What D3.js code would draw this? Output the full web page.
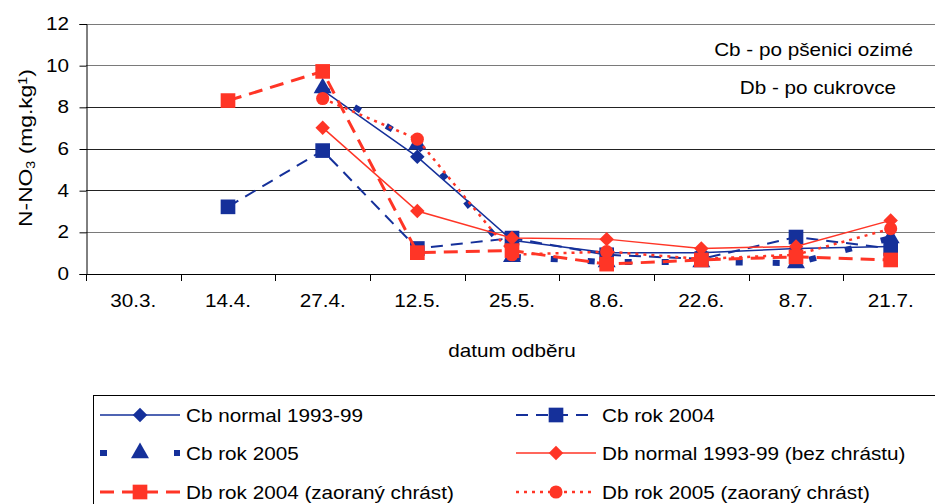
<!DOCTYPE html>
<html>
<head>
<meta charset="utf-8">
<script src="https://cdn.jsdelivr.net/npm/d3@7"></script>
<style>
  body { margin: 0; background: #fff; }
  text { font-family: "Liberation Sans", Arial, sans-serif; fill: #000; }
</style>
</head>
<body>
<svg id="chart"></svg>
<script>
/* data */
var categories = ["30.3.", "14.4.", "27.4.", "12.5.", "25.5.", "8.6.", "22.6.", "8.7.", "21.7."];
var yTicks = [0, 2, 4, 6, 8, 10, 12];

var cbNormal = [null, null, 8.8, 5.6, 1.6, 1.0, 1.0, 1.2, 1.3];
var cb2004   = [null, 3.2, 5.9, 1.2, 1.7, 0.9, 0.7, 1.75, 1.2];
var cb2005   = [null, null, 8.9, 6.2, 0.8, 0.55, 0.55, 0.5, 1.7];
var dbNormal = [null, null, 7.0, 3.0, 1.7, 1.65, 1.2, 1.3, 2.55];
var db2004   = [null, 8.3, 9.7, 1.0, 1.1, 0.45, 0.65, 0.8, 0.65];
var db2005   = [null, null, 8.4, 6.45, 0.9, 1.05, 0.7, 0.9, 2.15];

var seriesNames = ["Cb normal 1993-99", "Cb rok 2004", "Cb rok 2005",
                   "Db normal 1993-99 (bez chrástu)", "Db rok 2004 (zaoraný chrást)", "Db rok 2005 (zaoraný chrást)"];
var notes = ["Cb - po pšenici ozimé", "Db - po cukrovce"];

var BLUE = "#15309a", RED = "#ff3526";

/* styles per series */
var series = [
  { name: seriesNames[0], values: cbNormal, color: BLUE, width: 1.5, dash: null,   symbol: "diamond" },
  { name: seriesNames[1], values: cb2004,   color: BLUE, width: 2,   dash: "12,8", symbol: "square" },
  { name: seriesNames[2], values: cb2005,   color: BLUE, width: 6,   dash: "7,30", symbol: "triangle" },
  { name: seriesNames[3], values: dbNormal, color: RED,  width: 1.5, dash: null,   symbol: "diamond" },
  { name: seriesNames[4], values: db2004,   color: RED,  width: 3,   dash: "14,8", symbol: "square" },
  { name: seriesNames[5], values: db2005,   color: RED,  width: 2.5, dash: "3,5",  symbol: "circle" }
];

var width = 935, height = 504,
    plotLeft = 86, plotRight = 938, plotTop = 23.5, plotBottom = 273.5,
    SX = 1.15,   // text in the picture is stretched horizontally
    FS = 18;

var svg = d3.select("#chart").attr("width", width).attr("height", height);
svg.append("rect").attr("width", width).attr("height", height).attr("fill", "#fff");

var xScale = d3.scaleBand().domain(categories).range([plotLeft, plotRight]);
var yScale = d3.scaleLinear().domain([0, 12]).range([plotBottom, plotTop]);
var cx = function (c) { return xScale(c) + xScale.bandwidth() / 2; };

function label(g, x, y, str, anchor) {
  return g.append("text")
    .attr("transform", "translate(" + x + "," + y + ") scale(" + SX + ",1)")
    .attr("text-anchor", anchor || "start")
    .style("font-size", FS + "px")
    .text(str);
}

function symbolPath(kind) {
  if (kind === "diamond") return d3.symbol(d3.symbolSquare, 105)();
  if (kind === "square") return d3.symbol(d3.symbolSquare, 215)();
  if (kind === "triangle") return d3.symbol(d3.symbolTriangle, 140)();
  return d3.symbol(d3.symbolCircle, 135)();
}
function symbolRotate(kind) { return kind === "diamond" ? " rotate(45)" : ""; }

/* gridlines */
svg.append("g").selectAll("line")
  .data(yTicks.filter(function (d) { return d > 0; }))
  .enter().append("line")
    .attr("x1", plotLeft).attr("x2", width)
    .attr("y1", function (d) { return Math.round(yScale(d)) + 0.5; })
    .attr("y2", function (d) { return Math.round(yScale(d)) + 0.5; })
    .attr("stroke", function (d) { return (d === 12 || d === 10 || d === 2) ? "#7a7a7a" : "#222"; })
    .attr("stroke-width", 1);

/* y-axis */
var yAxisG = svg.append("g").attr("transform", "translate(" + (plotLeft + 0.5) + ",0.5)")
  .call(d3.axisLeft(yScale).tickValues(yTicks).tickSize(7).tickFormat(""));
yAxisG.select(".domain").attr("stroke", "#000");
yTicks.forEach(function (t) { label(svg, 69, yScale(t) + 6.5, String(t), "end"); });

/* x-axis: ticks at category boundaries */
svg.append("line").attr("x1", plotLeft).attr("x2", width)
  .attr("y1", Math.round(plotBottom) + 0.5).attr("y2", Math.round(plotBottom) + 0.5).attr("stroke", "#000");
svg.append("g").selectAll("line")
  .data(categories)
  .enter().append("line")
    .attr("x1", function (d) { return Math.round(xScale(d)) + 0.5; })
    .attr("x2", function (d) { return Math.round(xScale(d)) + 0.5; })
    .attr("y1", Math.round(plotBottom)).attr("y2", Math.round(plotBottom) + 7)
    .attr("stroke", "#000");
categories.forEach(function (c) { label(svg, cx(c), 307, c, "middle"); });

/* axis legends */
label(svg, 512, 357, "datum odběru", "middle");
var yt = svg.append("text")
  .attr("transform", "translate(32,148) rotate(-90) scale(1.2,1)")
  .attr("text-anchor", "middle").style("font-size", "19px");
yt.append("tspan").text("N-NO");
yt.append("tspan").attr("baseline-shift", "-25%").style("font-size", "12px").text("3");
yt.append("tspan").text(" (mg.kg");
yt.append("tspan").attr("baseline-shift", "45%").style("font-size", "12px").text("1");
yt.append("tspan").text(")");

/* notes */
label(svg, 913, 56, notes[0], "end");
label(svg, 896, 94, notes[1], "end");

/* series */
var line = d3.line()
  .defined(function (d) { return d.v !== null; })
  .x(function (d) { return cx(d.c); })
  .y(function (d) { return yScale(d.v); });

var plot = svg.append("g");
series.forEach(function (s) {
  var pts = s.values.map(function (v, i) { return { c: categories[i], v: v }; });
  plot.append("path")
    .datum(pts)
    .attr("d", line)
    .attr("fill", "none")
    .attr("stroke", s.color)
    .attr("stroke-width", s.width)
    .attr("stroke-dasharray", s.dash);
  plot.append("g").selectAll("path")
    .data(pts.filter(function (d) { return d.v !== null; }))
    .enter().append("path")
      .attr("d", symbolPath(s.symbol))
      .attr("transform", function (d) {
        return "translate(" + cx(d.c) + "," + yScale(d.v) + ")" + symbolRotate(s.symbol);
      })
      .attr("fill", s.color);
});

/* legend */
var lg = svg.append("g");
lg.append("rect").attr("x", 93.5).attr("y", 395.5).attr("width", 900).attr("height", 200)
  .attr("fill", "#fff").attr("stroke", "#000");
var colX = [100, 516], rowY = [415, 453, 492];
series.forEach(function (s, i) {
  var x0 = colX[i % 2], y0 = rowY[Math.floor(i / 2)];
  lg.append("line").attr("x1", x0).attr("x2", x0 + 80).attr("y1", y0).attr("y2", y0)
    .attr("stroke", s.color).attr("stroke-width", s.width)
    .attr("stroke-dasharray", s.dash);
  lg.append("path").attr("d", symbolPath(s.symbol))
    .attr("transform", "translate(" + (x0 + 40) + "," + y0 + ")" + symbolRotate(s.symbol))
    .attr("fill", s.color);
  label(lg, x0 + 86, y0 + 6.5, s.name, "start");
});
</script>
</body>
</html>
